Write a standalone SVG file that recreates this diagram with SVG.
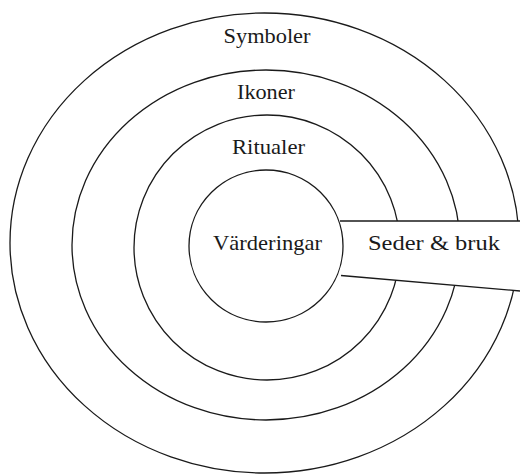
<svg xmlns="http://www.w3.org/2000/svg" width="520" height="476" viewBox="0 0 520 476">
<style>
.ring{fill:#fff;stroke:#1a1a1a;stroke-width:1.3}
.lbl{font-family:"Liberation Serif","Times New Roman",serif;font-size:21px;fill:#1a1a1a;text-anchor:middle}
.edge{stroke:#1a1a1a;stroke-width:1.3;fill:none}
</style>
<rect width="520" height="476" fill="#fff"/>
<g id="symboler"><ellipse class="ring" cx="264.5" cy="243" rx="254.5" ry="230"/><text class="lbl" x="267" y="43" textLength="87" lengthAdjust="spacingAndGlyphs">Symboler</text></g>
<g id="ikoner"><ellipse class="ring" cx="266" cy="245" rx="194" ry="175"/><text class="lbl" x="266" y="99" textLength="58" lengthAdjust="spacingAndGlyphs">Ikoner</text></g>
<g id="ritualer"><ellipse class="ring" cx="267" cy="247.5" rx="133" ry="132.5"/><text class="lbl" x="268.5" y="154" textLength="73" lengthAdjust="spacingAndGlyphs">Ritualer</text></g>
<g id="seder"><polygon points="340,221 520,221 520,291 340,275.5" fill="#fff" stroke="none"/><text class="lbl" x="434" y="250" textLength="132" lengthAdjust="spacingAndGlyphs">Seder &amp; bruk</text></g>
<g id="varderingar"><ellipse class="ring" cx="266" cy="246" rx="77" ry="76"/><text class="lbl" x="267.5" y="250" textLength="109" lengthAdjust="spacingAndGlyphs">Värderingar</text></g>
<g id="connectors"><line class="edge" x1="340" y1="221" x2="520" y2="221"/><line class="edge" x1="341" y1="275.5" x2="520" y2="291"/></g>
</svg>
